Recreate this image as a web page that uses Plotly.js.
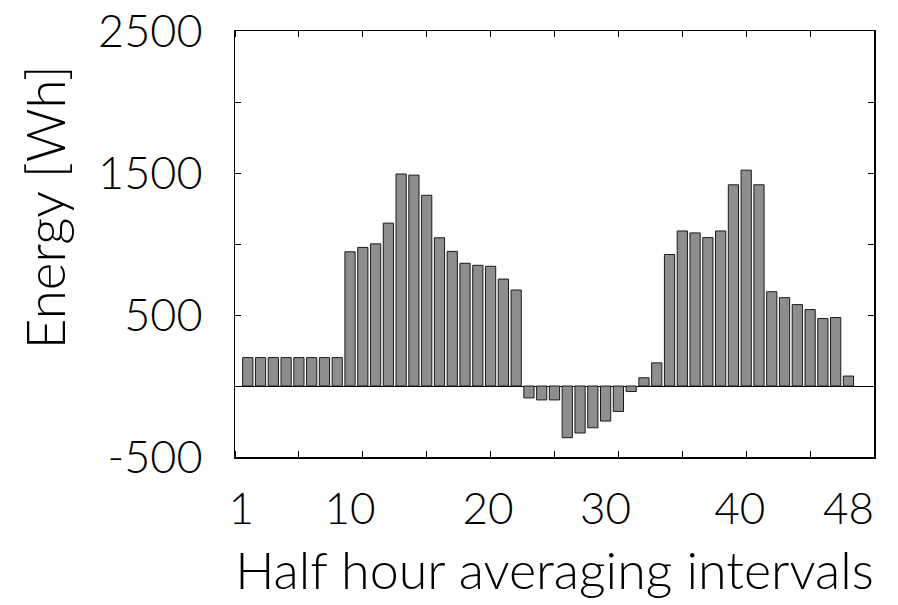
<!DOCTYPE html>
<html>
<head>
<meta charset="utf-8">
<script src="https://cdn.plot.ly/plotly-3.0.1.min.js"></script>
<style>
  html, body { margin: 0; padding: 0; background: #fff; }
  #chart { width: 898px; height: 605px; }
</style>
</head>
<body>
<div id="chart"></div>
<script>
// Half-hour interval index
const intervals = Array.from({length: 48}, (_, i) => i + 1);
// Energy per half hour interval [Wh]
const energy = [
  200, 200, 200, 200, 200, 200, 200, 200,
  945, 976, 1001, 1147, 1493, 1485, 1343, 1044, 948, 864, 850, 843, 753, 676,
  -84, -98, -98, -364, -331, -294, -247, -179, -39,
  58, 163, 926, 1092, 1078, 1045, 1092, 1417, 1520, 1417, 664, 622, 573, 538, 475, 482, 70
];
// Tick labels
const xTickText = ['1', '10', '20', '30', '40', '48'];
const yTickText = ['-500', '', '500', '', '1500', '', '2500'];
const yTickVals = [-500, 0, 500, 1000, 1500, 2000, 2500];
const xTitle = 'Half hour averaging intervals';
const yTitle = 'Energy [Wh]';

const xTickPos = [0.5, 9.0, 19.8, 29.0, 39.5, 48.0];
const FONT = 'Lato, DejaVu Sans, sans-serif';
const W = 300;

const trace = {
  type: 'bar',
  x: intervals,
  y: energy,
  marker: { color: '#8e8e8e', line: { color: '#1a1a1a', width: 1 } },
  hoverinfo: 'x+y'
};

const layout = {
  width: 898, height: 605,
  margin: { l: 235, r: 24, t: 31, b: 148, pad: 0 },
  paper_bgcolor: '#ffffff', plot_bgcolor: '#ffffff',
  showlegend: false,
  bargap: 0.2,
  font: { family: FONT, color: '#000', size: 42, weight: W },
  xaxis: {
    range: [0, 50],
    tickmode: 'array', tickvals: xTickPos, ticktext: xTickText,
    ticks: '', ticklabelstandoff: 13,
    tickfont: { family: FONT, size: 44, color: '#000', weight: W },
    minor: { ticks: 'inside', ticklen: 6, tickwidth: 1, tickcolor: '#000', tick0: 0, dtick: 5, showgrid: false },
    showline: true, linecolor: '#000', linewidth: 1.5, mirror: 'ticks',
    showgrid: false, zeroline: false,
    title: { text: xTitle, font: { family: FONT, size: 52, color: '#000', weight: W }, standoff: 20 }
  },
  yaxis: {
    range: [-500, 2500],
    tickmode: 'array', tickvals: yTickVals, ticktext: yTickText,
    ticks: 'inside', ticklen: 6, tickwidth: 1, tickcolor: '#000',
    ticklabelstandoff: 22,
    tickfont: { family: FONT, size: 45, color: '#000', weight: W },
    showline: true, linecolor: '#000', linewidth: 1.5, mirror: 'ticks',
    showgrid: false,
    zeroline: true, zerolinecolor: '#000', zerolinewidth: 1
  },
  annotations: [{
    text: yTitle, textangle: -90,
    xref: 'paper', yref: 'paper',
    x: -0.297, y: 0.587, xanchor: 'center', yanchor: 'middle',
    showarrow: false,
    font: { family: FONT, size: 53, color: '#000', weight: W }
  }]
};

Plotly.newPlot('chart', [trace], layout, { displayModeBar: false, staticPlot: true });
</script>
</body>
</html>
